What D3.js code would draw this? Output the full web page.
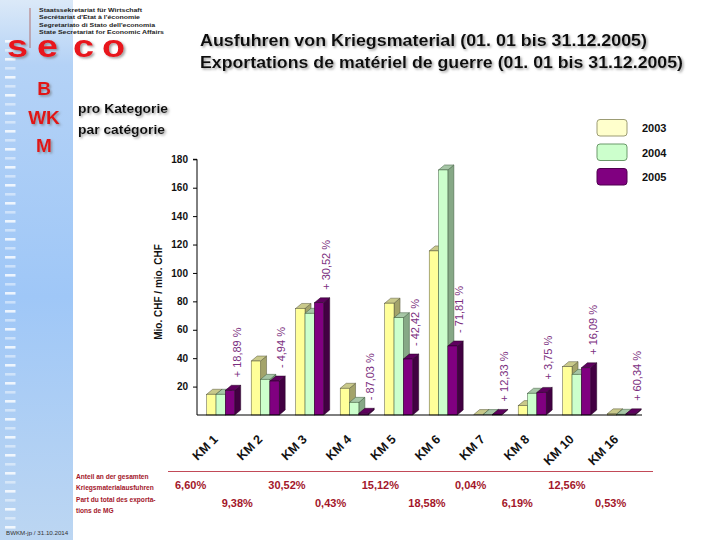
<!DOCTYPE html>
<html><head><meta charset="utf-8">
<script src="https://cdn.jsdelivr.net/npm/d3@7"></script>
<style>
html,body{margin:0;padding:0;background:#fff;}
svg{display:block;font-family:"Liberation Sans",Arial,Helvetica,sans-serif;}
</style></head>
<body>
<script>
const categories = ["KM 1","KM 2","KM 3","KM 4","KM 5","KM 6","KM 7","KM 8","KM 10","KM 16"];
const years = ["2003","2004","2005"];
const v2003 = [14.6, 38.0, 75.0, 18.8, 78.7, 115.5, 0.3, 6.6, 34.0, 0.8];
const v2004 = [14.6, 25.1, 71.6, 8.9, 68.5, 172.5, 0.3, 15.3, 28.6, 0.5];
const v2005 = [17.4, 23.9, 79.0, 1.2, 39.4, 48.6, 0.4, 15.9, 33.2, 0.8];
const changes = ["+ 18,89 %","- 4,94 %","+ 30,52 %","- 87,03 %","- 42,42 %","- 71,81 %","+ 12,33 %","+ 3,75 %","+ 16,09 %","+ 60,34 %"];
const shares = ["6,60%","9,38%","30,52%","0,43%","15,12%","18,58%","0,04%","6,19%","12,56%","0,53%"];
const yTicks = [20,40,60,80,100,120,140,160,180];

const W = 720, H = 540;
const svg = d3.select("body").append("svg").attr("width", W).attr("height", H);
const defs = svg.append("defs");
const f = defs.append("filter").attr("id","sh").attr("x","-10%").attr("y","-30%").attr("width","130%").attr("height","180%");
f.append("feDropShadow").attr("dx",1.5).attr("dy",1.5).attr("stdDeviation",0.9).attr("flood-color","#777").attr("flood-opacity",0.7);
const f2 = defs.append("filter").attr("id","sh2").attr("x","-20%").attr("y","-30%").attr("width","150%").attr("height","180%");
f2.append("feDropShadow").attr("dx",1.5).attr("dy",1.5).attr("stdDeviation",1).attr("flood-color","#666").attr("flood-opacity",0.6);
const lg = defs.append("linearGradient").attr("id","strip").attr("x1",0).attr("y1",0).attr("x2",0).attr("y2",1);
lg.append("stop").attr("offset","0%").attr("stop-color","#dbe9f8");
lg.append("stop").attr("offset","12%").attr("stop-color","#b4d2f6");
lg.append("stop").attr("offset","55%").attr("stop-color","#9fc7f7");
lg.append("stop").attr("offset","100%").attr("stop-color","#bcd6f2");

// left strip
svg.append("rect").attr("x",0).attr("y",0).attr("width",73).attr("height",H).attr("fill","url(#strip)");
const dashY = d3.range(40, 532, 9);
svg.append("g").selectAll("rect").data(dashY).join("rect")
  .attr("x",5).attr("y",d=>d).attr("width",10.5).attr("height",2.6)
  .attr("fill","#fff").attr("opacity",(d,i)=> i%2 ? 0.45 : 0.8);

// header small text
svg.append("line").attr("x1",30).attr("x2",30).attr("y1",8).attr("y2",48).attr("stroke","#b07070").attr("stroke-width",1);
const hdr = ["Staatssekretariat für Wirtschaft","Secrétariat d'Etat à l'économie","Segretariato di Stato dell'economia","State Secretariat for Economic Affairs"];
const hdrW = [103, 101, 116, 125];
svg.append("g").selectAll("text").data(hdr).join("text")
  .attr("x",39).attr("y",(d,i)=>12+i*7.3).attr("font-size",6.2).attr("font-weight","bold").attr("fill","#222")
  .attr("textLength",(d,i)=>hdrW[i]).attr("lengthAdjust","spacingAndGlyphs").text(d=>d);

// seco
const seco = [["s",7],["e",37],["c",73],["o",102]];
svg.append("g").selectAll("text").data(seco).join("text")
  .attr("transform",d=>`translate(${d[1]},57) scale(1.22,1)`).attr("font-size",31).attr("font-weight","bold").attr("fill","#e8141c")
  .attr("filter","url(#sh2)").text(d=>d[0]);
const bwkm = [["B",95],["WK",124],["M",152]];
svg.append("g").selectAll("text").data(bwkm).join("text")
  .attr("x",44).attr("y",d=>d[1]).attr("text-anchor","middle").attr("font-size",19).attr("font-weight","bold")
  .attr("fill","#e01818").attr("filter","url(#sh2)").text(d=>d[0]);

// titles
svg.append("text").attr("x",200).attr("y",46).attr("font-size",17).attr("font-weight","bold").attr("fill","#111")
  .attr("textLength",447).attr("lengthAdjust","spacingAndGlyphs").attr("filter","url(#sh)")
  .text("Ausfuhren von Kriegsmaterial (01. 01 bis 31.12.2005)");
svg.append("text").attr("x",200).attr("y",68).attr("font-size",17).attr("font-weight","bold").attr("fill","#111")
  .attr("textLength",483).attr("lengthAdjust","spacingAndGlyphs").attr("filter","url(#sh)")
  .text("Exportations de matériel de guerre (01. 01 bis 31.12.2005)");
svg.append("text").attr("x",78).attr("y",113).attr("font-size",13).attr("font-weight","bold").attr("fill","#111")
  .attr("textLength",90).attr("lengthAdjust","spacingAndGlyphs").attr("filter","url(#sh)").text("pro Kategorie");
svg.append("text").attr("x",78).attr("y",134).attr("font-size",13).attr("font-weight","bold").attr("fill","#111")
  .attr("textLength",87).attr("lengthAdjust","spacingAndGlyphs").attr("filter","url(#sh)").text("par catégorie");

// scales
const x0 = d3.scaleBand().domain(categories).range([197, 642]).paddingInner(0).paddingOuter(0);
const x1 = d3.scaleBand().domain(years).range([0, 28]);
const y = d3.scaleLinear().domain([0, 180]).range([415, 159.3]);
const groupOff = x0.bandwidth() * 0.218;
const DX = 6, DY = 5;

const colors = {
  "2003": {front:"#ffff99", top:"#c9c98a", side:"#a3a36a", stroke:"#55553a"},
  "2004": {front:"#ccffcc", top:"#a6c6a6", side:"#86a886", stroke:"#3f5a3f"},
  "2005": {front:"#800080", top:"#5e005e", side:"#420042", stroke:"#200020"}
};
const series = {"2003": v2003, "2004": v2004, "2005": v2005};
const bars = [];
categories.forEach((c,i)=>{ years.forEach(yr=>{ bars.push({c, yr, v: series[yr][i]}); }); });

const gb = svg.append("g");
bars.forEach(b=>{
  const xl = x0(b.c) + groupOff + x1(b.yr);
  const w = x1.bandwidth();
  const yt = y(b.v), yb = y(0);
  const col = colors[b.yr];
  const g = gb.append("g");
  g.append("path").attr("d",`M${xl+w},${yb} L${xl+w+DX},${yb-DY} L${xl+w+DX},${yt-DY} L${xl+w},${yt} Z`)
    .attr("fill",col.side).attr("stroke",col.stroke).attr("stroke-width",0.5);
  g.append("path").attr("d",`M${xl},${yt} L${xl+DX},${yt-DY} L${xl+w+DX},${yt-DY} L${xl+w},${yt} Z`)
    .attr("fill",col.top).attr("stroke",col.stroke).attr("stroke-width",0.5);
  if (yb - yt > 0.5) {
    g.append("rect").attr("x",xl).attr("y",yt).attr("width",w).attr("height",yb-yt)
      .attr("fill",col.front).attr("stroke",col.stroke).attr("stroke-width",0.5);
  }
});

// axes
const yAxis = d3.axisLeft(y).tickValues(yTicks).tickSize(4).tickSizeOuter(0).tickFormat(d3.format("d"));
const ga = svg.append("g").attr("transform","translate(197,0)").call(yAxis);
ga.select(".domain").attr("stroke","#000").attr("d",`M-4,${y(180)}H0V${y(0)}`);
ga.selectAll(".tick line").attr("stroke","#000");
ga.selectAll(".tick text").attr("font-size",10).attr("font-weight","bold").attr("fill","#111")
  .attr("font-family","Liberation Sans, Arial, sans-serif").attr("x",-9);
svg.append("line").attr("x1",197).attr("x2",642).attr("y1",y(0)).attr("y2",y(0)).attr("stroke","#000").attr("stroke-width",1.2);

svg.append("text").attr("transform",`translate(158,292) rotate(-90)`).attr("text-anchor","middle")
  .attr("font-size",10).attr("font-weight","bold").attr("fill","#111").attr("dominant-baseline","central")
  .text("Mio. CHF / mio. CHF");

// category labels
svg.append("g").selectAll("text").data(categories).join("text")
  .attr("transform",c=>`translate(${x0(c)+groupOff+12},${440}) rotate(-45)`)
  .attr("text-anchor","end").attr("font-size",12.5).attr("font-weight","bold").attr("fill","#111")
  .text(c=>c);

// change labels
svg.append("g").selectAll("text").data(categories).join("text")
  .attr("transform",(c,i)=>`translate(${x0(c)+groupOff+30},${y(v2005[i])-DY-8}) rotate(-90)`)
  .attr("text-anchor","start").attr("dominant-baseline","central")
  .attr("font-size",11).attr("fill","#7a2e7e").text((c,i)=>changes[i]);

// legend
const lgG = svg.append("g");
const legFill = {"2003":["#ffffcc","#9c9c74"],"2004":["#ccffcc","#6a9a6a"],"2005":["#800080","#500050"]};
years.forEach((yr,i)=>{
  lgG.append("rect").attr("x",597).attr("y",119.5+i*24.5).attr("width",30).attr("height",16.5).attr("rx",3)
    .attr("fill",legFill[yr][0]).attr("stroke",legFill[yr][1]).attr("stroke-width",1);
  lgG.append("text").attr("x",642).attr("y",128+i*24.5).attr("dominant-baseline","central")
    .attr("font-size",11).attr("font-weight","bold").attr("fill","#111").text(yr);
});

// bottom share table
svg.append("line").attr("x1",168).attr("x2",653).attr("y1",471.5).attr("y2",471.5).attr("stroke","#c24a58").attr("stroke-width",1);
const noteLines = ["Anteil an der gesamten","Kriegsmaterialausfuhren","Part du total des exporta-","tions de MG"];
svg.append("g").selectAll("text").data(noteLines).join("text")
  .attr("x",76).attr("y",(d,i)=>479+i*11.3).attr("font-size",6.6).attr("font-weight","bold").attr("fill","#a3162a")
  .text(d=>d);
const xs = d3.scalePoint().domain(categories).range([175, 595]);
svg.append("g").selectAll("text").data(categories).join("text")
  .attr("x",c=>xs(c)).attr("y",(c,i)=> i%2===0 ? 489 : 507)
  .attr("font-size",11).attr("font-weight","bold").attr("fill","#a3162a")
  .text((c,i)=>shares[i]);

svg.append("text").attr("x",6).attr("y",535).attr("font-size",6.2).attr("fill","#333").text("BWKM-jp / 31.10.2014");
</script>
</body></html>
